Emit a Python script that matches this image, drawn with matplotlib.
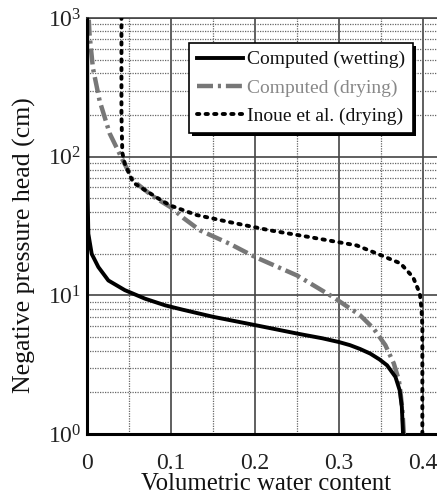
import matplotlib
matplotlib.use("Agg")
import matplotlib.pyplot as plt
import numpy as np
from matplotlib.ticker import LogLocator, MultipleLocator, FixedLocator
import matplotlib.patheffects as pe

plt.rcParams['font.family'] = ['Liberation Serif', 'DejaVu Serif']
plt.rcParams['mathtext.fontset'] = 'custom'
plt.rcParams['mathtext.rm'] = 'Liberation Serif'
plt.rcParams['mathtext.it'] = 'Liberation Serif:italic'

# Computed (wetting)
wet_h = [1.0, 1.07, 1.57, 2.07, 2.58, 3.13, 3.45, 3.8, 4.1, 4.37, 4.6, 4.9, 5.3, 6.1, 7.0, 7.9, 8.47, 9.46,
         10.9, 12.8, 16, 19.9, 27.8, 50, 100, 300, 1000]
wet_theta = [0.376, 0.3758, 0.3746, 0.372, 0.367, 0.357, 0.348, 0.337, 0.325, 0.313, 0.30, 0.28, 0.25,
             0.20, 0.15, 0.113, 0.093, 0.069, 0.045, 0.0254, 0.0135, 0.0056, 0.0016, 0.0008, 0.0005,
             0.0003, 0.0002]

# Computed (drying)
dry_h = [1.0, 1.5, 2.0, 2.45, 3.23, 4.37, 5.76, 7.18, 9.7, 13.9, 18.9, 23.5, 29.4, 36, 43, 52,
         67, 93, 147, 253, 437, 765, 1000]
dry_theta = [0.377, 0.3752, 0.373, 0.371, 0.365, 0.355, 0.341, 0.325, 0.293, 0.25, 0.20, 0.170,
             0.1345, 0.115, 0.10, 0.078, 0.055, 0.043, 0.027, 0.015, 0.007, 0.003, 0.002]

# Inoue et al. (drying)
ino_h = [1.0, 3.0, 6.0, 8.0, 10.3, 13.5, 17, 20, 22.9, 26.3, 29.4, 33.7, 38, 44.5, 50.7, 65,
         89, 107, 200, 500, 1000]
ino_theta = [0.399, 0.399, 0.399, 0.398, 0.396, 0.388, 0.373, 0.345, 0.321, 0.265, 0.218, 0.170,
             0.13, 0.099, 0.083, 0.055, 0.045, 0.042, 0.041, 0.041, 0.041]

fig = plt.figure(figsize=(4.37, 5.0), dpi=100)
ax = fig.add_axes([87/437, 66/500, (440-87)/437, 416/500])

ax.plot(wet_theta, wet_h, color='black', lw=2.8, label='Computed (wetting)', zorder=4,
        solid_joinstyle='round')
ax.plot(dry_theta, dry_h, color='#777777', lw=3.2, dashes=(3.6, 1.1, 0.7, 1.1),
        label='Computed (drying)', zorder=3)
ax.plot(ino_theta, ino_h, color='black', lw=2.8, linestyle=(0, (0.6, 1.6)),
        dash_capstyle='round', label='Inoue et al. (drying)', zorder=5)

ax.set_yscale('log')
ax.set_xlim(0, 0.42)
ax.set_ylim(1, 1000)

ax.xaxis.set_major_locator(FixedLocator([0, 0.1, 0.2, 0.3, 0.4]))
ax.set_xticklabels(['0', '0.1', '0.2', '0.3', '0.4'])
ax.xaxis.set_minor_locator(MultipleLocator(0.05))
ax.yaxis.set_major_locator(LogLocator(base=10, numticks=10))
ax.yaxis.set_minor_locator(LogLocator(base=10, subs=np.arange(2, 10), numticks=20))

ax.grid(True, which='major', color='#444444', lw=1.2, linestyle='-')
ax.grid(True, which='minor', color='#666666', lw=0.9, linestyle=(0, (1, 1)))
ax.tick_params(which='both', length=0, labelsize=17, colors='#222222')
ax.tick_params(axis='x', pad=14)
ax.tick_params(axis='y', pad=4)

for s in ['left', 'bottom']:
    ax.spines[s].set_linewidth(2.2)
ax.spines['top'].set_linewidth(1.2)
ax.spines['top'].set_color('#444444')
ax.spines['right'].set_visible(False)

ax.set_xlabel('Volumetric water content', fontsize=17.8, color='#111111')
ax.set_ylabel('Negative pressure head (cm)', fontsize=18.5, color='#111111')
ax.yaxis.set_label_coords(-0.145, 0.454)
ax.xaxis.set_label_coords(0.508, -0.094)

leg = ax.legend(loc='upper right', bbox_to_anchor=((413-87)/353, (434-43)/416),
                fontsize=14, frameon=True, fancybox=False, shadow=False, framealpha=1.0,
                handlelength=2.4, handletextpad=0.2, borderpad=0.4, labelspacing=0.55,
                borderaxespad=0.0)
leg.get_frame().set_edgecolor('black')
leg.get_frame().set_facecolor('white')
leg.get_frame().set_linewidth(1.2)
leg.get_frame().set_path_effects([pe.SimplePatchShadow(offset=(2.5, -2.5), shadow_rgbFace='black', alpha=1.0), pe.Normal()])
for t, c in zip(leg.get_texts(), ['#111111', '#888888', '#111111']):
    t.set_color(c)
leg.set_zorder(10)

fig.savefig('out.png', dpi=100)
